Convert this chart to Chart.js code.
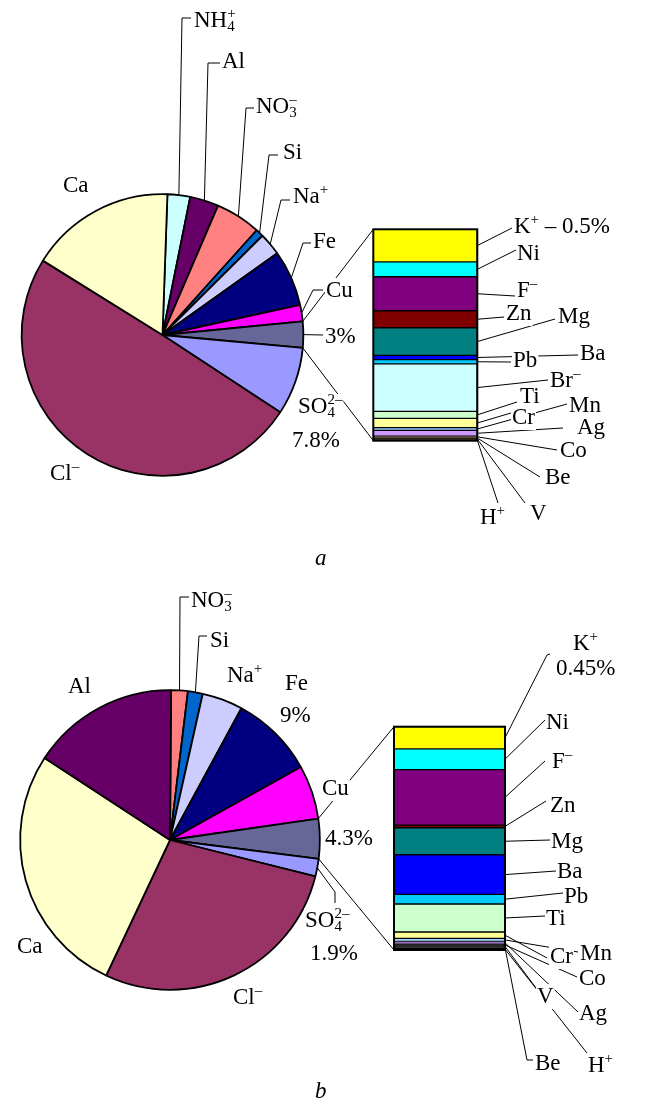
<!DOCTYPE html>
<html>
<head>
<meta charset="utf-8">
<script src="https://cdn.jsdelivr.net/npm/chart.js@4"></script>
<style>
html, body { margin: 0; padding: 0; background: #fff; }
#wrap { position: relative; width: 645px; height: 1102px; }
#wrap canvas { position: absolute; left: 0; top: 0; }
</style>
</head>
<body>
<div id="wrap">
  <canvas id="pieA" width="645" height="1102"></canvas>
  <canvas id="barA" width="645" height="1102"></canvas>
  <canvas id="pieB" width="645" height="1102"></canvas>
  <canvas id="barB" width="645" height="1102"></canvas>
</div>
<script>
// ---- data, panel a ----
const catsA = ['NH{_4}{^+}', 'Al', 'NO{_3}{^–}', 'Si', 'Na{^+}', 'Fe', 'Cu', 'Other', 'SO{_4}{^2–}', 'Cl{^–}', 'Ca'];
const valsA = [2.6, 3.3, 5.2, 0.9, 2.6, 6.4, 1.9, 3, 7.8, 49.6, 16.7];
const barCatsA = ['K{^+}', 'Ni', 'F{^–}', 'Zn', 'Mg', 'Ba', 'Pb', 'Br{^–}', 'Ti', 'Cr', 'Mn', 'Ag', 'Co', 'Be', 'V', 'H{^+}'];
const barValsA = [0.46, 0.21, 0.48, 0.24, 0.39, 0.06, 0.06, 0.67, 0.10, 0.13, 0.04, 0.08, 0.02, 0.015, 0.015, 0.015];
const keyNoteA = ' – 0.5%';

// ---- data, panel b ----
const catsB = ['NO{_3}{^–}', 'Si', 'Na{^+}', 'Fe', 'Cu', 'Other', 'SO{_4}{^2–}', 'Cl{^–}', 'Ca', 'Al'];
const valsB = [1.8, 1.6, 4.4, 9, 5.8, 4.3, 1.9, 28.1, 27.2, 15.9];
const barCatsB = ['K{^+}', 'Ni', 'F{^–}', 'Zn', 'Mg', 'Ba', 'Pb', 'Ti', 'Cr', 'Mn', 'Ag', 'Co', 'V', 'Be', 'H{^+}'];
const barValsB = [0.42, 0.39, 1.05, 0.05, 0.51, 0.75, 0.18, 0.53, 0.12, 0.06, 0.05, 0.03, 0.025, 0.025, 0.03];
const keyNoteB = '0.45%';

// colours
const pieColA = ['#ccffff', '#660066', '#ff8080', '#0066cc', '#ccccff', '#000080', '#ff00ff', '#666699', '#9999ff', '#993366', '#ffffcc'];
const pieColB = ['#ff8080', '#0066cc', '#ccccff', '#000080', '#ff00ff', '#666699', '#9999ff', '#993366', '#ffffcc', '#660066'];
const barColA = ['#ffff00', '#00ffff', '#800080', '#800000', '#008080', '#0000ff', '#00ccff', '#ccffff', '#ccffcc', '#ffff99', '#99ccff', '#cc99ff', '#663300', '#331a00', '#331a00', '#331a00'];
const barColB = ['#ffff00', '#00ffff', '#800080', '#800000', '#008080', '#0000ff', '#00ccff', '#ccffcc', '#ffff99', '#99ccff', '#cc99ff', '#000000', '#000000', '#000000', '#000000'];

const FONT = '23px "Liberation Serif", "Times New Roman", serif';
const SMALL = '15px "Liberation Serif", "Times New Roman", serif';
const ITALIC = 'italic 23px "Liberation Serif", "Times New Roman", serif';

// label placement (page pixels): text baseline positions and leader bends
const layoutA = {
  pie: {left: 20.75, top: 193.25, right: 340.75, bottom: 625.25},
  bar: {left: 373.3, top: 229.3, right: 167.7, bottom: 661.3},
  rotation: 2,
  letter: ['a', 315, 565],
  noteInline: true,
  pieLabels: [
    {at: [[194, 27]], via: [[182, 18], [191, 18]]},
    {at: [[222, 68]], via: [[208, 63], [220, 63]]},
    {at: [[256, 113]], via: [[246, 108], [254, 108]]},
    {at: [[283, 159]], via: [[269, 155], [278, 155]]},
    {at: [[293, 203]], via: [[281, 200], [290, 200]]},
    {at: [[313, 248]], via: [[303, 243], [311, 243]]},
    {at: [[326, 297]], via: [[313, 290], [323, 290]]},
    {at: [[325, 343]], via: [[323, 335]], show: 'pct'},
    {at: [[298, 413], [292, 447]], show: 'both'},
    {at: [[50, 480]]},
    {at: [[63, 192]]}
  ],
  barLabels: [
    {at: [[514, 233]], via: [[512, 228]]},
    {at: [[517, 260]], via: [[516, 250]]},
    {at: [[517, 297]], via: [[515, 296]]},
    {at: [[506, 320]], via: [[504, 317]]},
    {at: [[558, 323]], via: [[555, 319]]},
    {at: [[580, 360]], via: [[578, 355]]},
    {at: [[513, 367]], via: [[511, 362]]},
    {at: [[550, 387]], via: [[548, 380]]},
    {at: [[520, 403]], via: [[517, 402]]},
    {at: [[512, 424]], via: [[511, 413]]},
    {at: [[569, 412]], via: [[567, 404]]},
    {at: [[577, 434]], via: [[563, 428]]},
    {at: [[560, 457]], via: [[557, 450]]},
    {at: [[545, 484]], via: [[540, 477]]},
    {at: [[530, 520]], via: [[525, 503]]},
    {at: [[480, 524]], via: [[498, 503]]}
  ]
};

const layoutB = {
  pie: {left: 19.25, top: 689.25, right: 324.25, bottom: 111.25},
  bar: {left: 394, top: 726.7, right: 140, bottom: 152},
  rotation: 0.4,
  letter: ['b', 315, 1098],
  noteInline: false,
  pieLabels: [
    {at: [[191, 607]], via: [[180, 597], [189, 597]]},
    {at: [[210, 647]], via: [[199, 636], [207, 636]]},
    {at: [[227, 682]]},
    {at: [[285, 690], [280, 722]], show: 'both'},
    {at: [[322, 795]]},
    {at: [[325, 845]], show: 'pct'},
    {at: [[305, 927], [310, 960]], via: [[335, 892], [335, 903]], show: 'both'},
    {at: [[233, 1004]]},
    {at: [[17, 953]]},
    {at: [[68, 693]]}
  ],
  barLabels: [
    {at: [[573, 650], [556, 675]], via: [[547, 655], [550, 654]]},
    {at: [[546, 729]], via: [[545, 720]]},
    {at: [[552, 768]], via: [[545, 761]]},
    {at: [[550, 812]], via: [[546, 801]]},
    {at: [[551, 848]], via: [[550, 840]]},
    {at: [[557, 878]], via: [[556, 871]]},
    {at: [[564, 903]], via: [[563, 893]]},
    {at: [[546, 925]], via: [[545, 916]]},
    {at: [[550, 963]], via: [[547, 958]]},
    {at: [[580, 960]], via: [[578, 952]]},
    {at: [[579, 1020]], via: [[578, 1012]]},
    {at: [[579, 985]], via: [[577, 977]]},
    {at: [[537, 1003]], via: [[536, 988]]},
    {at: [[535, 1070]], via: [[527, 1060], [533, 1060]]},
    {at: [[588, 1072]], via: [[587, 1053]]}
  ]
};

// text with {_sub} and {^sup} pieces; sub+sup pairs are stacked
function drawRich(ctx, s, x, y) {
  const parts = [];
  const re = /\{([_^])([^}]*)\}/g;
  let last = 0, m;
  while ((m = re.exec(s))) {
    if (m.index > last) parts.push({t: 'n', s: s.slice(last, m.index)});
    parts.push({t: m[1], s: m[2]});
    last = re.lastIndex;
  }
  if (last < s.length) parts.push({t: 'n', s: s.slice(last)});

  const runs = [];
  let cx = x;
  for (let i = 0; i < parts.length; i++) {
    const p = parts[i];
    ctx.font = p.t === 'n' ? FONT : SMALL;
    const w = ctx.measureText(p.s).width;
    const q = parts[i + 1];
    if (p.t !== 'n' && q && q.t !== 'n' && q.t !== p.t) {
      const w2 = ctx.measureText(q.s).width;
      runs.push({t: p.t, s: p.s, x: cx}, {t: q.t, s: q.s, x: cx});
      cx += Math.max(w, w2);
      i++;
    } else {
      runs.push({t: p.t, s: p.s, x: cx});
      cx += w;
    }
  }
  ctx.fillStyle = '#fff';
  ctx.fillRect(x - 1, y - 19, cx - x + 2, 25);
  ctx.fillStyle = '#000';
  ctx.textBaseline = 'alphabetic';
  ctx.textAlign = 'left';
  runs.forEach(r => {
    ctx.font = r.t === 'n' ? FONT : SMALL;
    const dy = r.t === '_' ? 4 : (r.t === '^' ? -9 : 0);
    ctx.fillText(r.s, r.x, y + dy);
  });
}

function polyline(ctx, pts) {
  ctx.beginPath();
  ctx.moveTo(pts[0][0], pts[0][1]);
  for (let i = 1; i < pts.length; i++) ctx.lineTo(pts[i][0], pts[i][1]);
  ctx.stroke();
}

function overlay(pie, cats, vals, barCats, note, L) {
  return {
    id: 'overlay',
    afterDraw(chart) {
      const ctx = chart.ctx;
      const arcs = pie.getDatasetMeta(0).data;
      const segs = chart.data.datasets.map((d, i) => chart.getDatasetMeta(i).data[0]);
      const first = segs[0], lastSeg = segs[segs.length - 1];
      const left = first.x - first.width / 2;
      const right = first.x + first.width / 2;
      const top = Math.min(first.y, first.base);
      const bottom = Math.max(lastSeg.y, lastSeg.base);
      const pt = (a, ang) => [a.x + Math.cos(ang) * a.outerRadius, a.y + Math.sin(ang) * a.outerRadius];
      const other = arcs[cats.indexOf('Other')];

      ctx.save();
      ctx.strokeStyle = '#000';
      // heavier outline round the stacked column
      ctx.lineWidth = 2;
      ctx.strokeRect(left, top, right - left, bottom - top);
      ctx.lineWidth = 1;
      // series lines from the "other" slice to the bar
      polyline(ctx, [pt(other, other.startAngle), [left, top]]);
      polyline(ctx, [pt(other, other.endAngle), [left, bottom]]);
      // leaders
      L.pieLabels.forEach((l, i) => {
        if (!l.via) return;
        const a = arcs[i];
        polyline(ctx, [pt(a, (a.startAngle + a.endAngle) / 2), ...l.via]);
      });
      L.barLabels.forEach((l, i) => {
        if (!l.via) return;
        const s = segs[i];
        polyline(ctx, [[right, (s.y + s.base) / 2], ...l.via]);
      });
      // texts
      L.pieLabels.forEach((l, i) => {
        const pct = vals[i] + '%';
        const lines = l.show === 'pct' ? [pct] : (l.show === 'both' ? [cats[i], pct] : [cats[i]]);
        lines.forEach((t, k) => drawRich(ctx, t, l.at[k][0], l.at[k][1]));
      });
      L.barLabels.forEach((l, i) => {
        let lines = [barCats[i]];
        if (i === 0) lines = L.noteInline ? [barCats[i] + note] : [barCats[i], note];
        lines.forEach((t, k) => drawRich(ctx, t, l.at[k][0], l.at[k][1]));
      });
      ctx.font = ITALIC;
      ctx.fillStyle = '#000';
      ctx.fillText(L.letter[0], L.letter[1], L.letter[2]);
      ctx.restore();
    }
  };
}

function makePanel(pieId, barId, cats, vals, pieCol, barCats, barVals, barCol, note, L) {
  const pie = new Chart(document.getElementById(pieId), {
    type: 'pie',
    data: {
      labels: cats,
      datasets: [{data: vals, backgroundColor: pieCol, borderColor: '#000', borderWidth: 1.8}]
    },
    options: {
      responsive: false,
      animation: false,
      events: [],
      rotation: L.rotation,
      layout: {padding: L.pie},
      plugins: {legend: {display: false}, tooltip: {enabled: false}}
    }
  });

  const total = barVals.reduce((s, v) => s + v, 0);
  new Chart(document.getElementById(barId), {
    type: 'bar',
    data: {
      labels: ['other'],
      datasets: barCats.map((c, i) => ({
        label: c,
        data: [barVals[i]],
        backgroundColor: barCol[i],
        borderColor: '#000',
        borderWidth: 1,
        borderSkipped: false,
        barPercentage: 1,
        categoryPercentage: 1
      }))
    },
    options: {
      responsive: false,
      animation: false,
      events: [],
      layout: {padding: L.bar},
      scales: {
        x: {display: false, stacked: true},
        y: {display: false, stacked: true, min: 0, max: total, reverse: true}
      },
      plugins: {legend: {display: false}, tooltip: {enabled: false}}
    },
    plugins: [overlay(pie, cats, vals, barCats, note, L)]
  });
}

makePanel('pieA', 'barA', catsA, valsA, pieColA, barCatsA, barValsA, barColA, keyNoteA, layoutA);
makePanel('pieB', 'barB', catsB, valsB, pieColB, barCatsB, barValsB, barColB, keyNoteB, layoutB);
</script>
</body>
</html>
